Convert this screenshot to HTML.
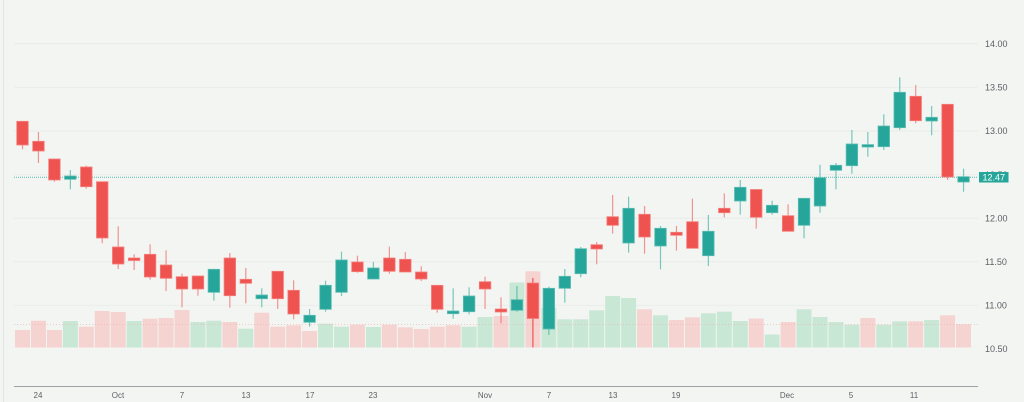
<!DOCTYPE html>
<html><head><meta charset="utf-8"><style>
html,body{margin:0;padding:0;background:#f3f5f2;}
svg{display:block;}
.r{fill:#ef5350;stroke:#f4807d;stroke-width:.8}
.g{fill:#26a69a;stroke:#5cbdb3;stroke-width:.8}
.wr{stroke:#ef5350;stroke-opacity:.6;stroke-width:1.2}
.wg{stroke:#26a69a;stroke-opacity:.6;stroke-width:1.2}
.vr{fill:#f5d3d1}
.vg{fill:#c9e7d5}
.pl{font-family:"Liberation Sans",sans-serif;font-size:9px;fill:#5d6066}
.dl{font-family:"Liberation Sans",sans-serif;font-size:8px;fill:#5d6066;text-anchor:middle}
</style></head><body>
<svg width="1024" height="402" viewBox="0 0 1024 402" xmlns="http://www.w3.org/2000/svg">
<rect width="1024" height="402" fill="#f3f5f2"/>
<line x1="3.5" y1="0" x2="3.5" y2="402" stroke="#e2e4e2"/>
<g stroke="#eaecea" stroke-width="1">
<line x1="14" y1="43.8" x2="978" y2="43.8"/>
<line x1="14" y1="87.4" x2="978" y2="87.4"/>
<line x1="14" y1="131" x2="978" y2="131"/>
<line x1="14" y1="174.6" x2="978" y2="174.6"/>
<line x1="14" y1="218.2" x2="978" y2="218.2"/>
<line x1="14" y1="261.8" x2="978" y2="261.8"/>
<line x1="14" y1="305.4" x2="978" y2="305.4"/>
</g>
<!-- volume -->
<g>
<rect class="vr" x="15" y="330" width="15" height="17.5"/>
<rect class="vr" x="30.95" y="320.7" width="15" height="26.8"/>
<rect class="vr" x="46.9" y="330" width="15" height="17.5"/>
<rect class="vg" x="62.85" y="321" width="15" height="26.5"/>
<rect class="vr" x="78.8" y="326.7" width="15" height="20.8"/>
<rect class="vr" x="94.75" y="311" width="15" height="36.5"/>
<rect class="vr" x="110.7" y="312" width="15" height="35.5"/>
<rect class="vg" x="126.65" y="321" width="15" height="26.5"/>
<rect class="vr" x="142.6" y="318.7" width="15" height="28.8"/>
<rect class="vr" x="158.55" y="318" width="15" height="29.5"/>
<rect class="vr" x="174.5" y="310" width="15" height="37.5"/>
<rect class="vg" x="190.45" y="322" width="15" height="25.5"/>
<rect class="vg" x="206.4" y="320.7" width="15" height="26.8"/>
<rect class="vr" x="222.35" y="322" width="15" height="25.5"/>
<rect class="vg" x="238.3" y="328.7" width="15" height="18.8"/>
<rect class="vr" x="254.25" y="312.7" width="15" height="34.8"/>
<rect class="vr" x="270.2" y="326.7" width="15" height="20.8"/>
<rect class="vr" x="286.15" y="325.3" width="15" height="22.2"/>
<rect class="vr" x="302.1" y="331" width="15" height="16.5"/>
<rect class="vg" x="318.05" y="323.7" width="15" height="23.8"/>
<rect class="vg" x="334" y="326.7" width="15" height="20.8"/>
<rect class="vr" x="349.95" y="324.7" width="15" height="22.8"/>
<rect class="vg" x="365.9" y="327" width="15" height="20.5"/>
<rect class="vr" x="381.85" y="324.7" width="15" height="22.8"/>
<rect class="vr" x="397.8" y="327.3" width="15" height="20.2"/>
<rect class="vr" x="413.75" y="329" width="15" height="18.5"/>
<rect class="vr" x="429.7" y="326.7" width="15" height="20.8"/>
<rect class="vr" x="445.65" y="325.3" width="15" height="22.2"/>
<rect class="vg" x="461.6" y="326.7" width="15" height="20.8"/>
<rect class="vg" x="477.55" y="317" width="15" height="30.5"/>
<rect class="vr" x="493.5" y="316" width="15" height="31.5"/>
<rect class="vg" x="509.45" y="282.5" width="15" height="65"/>
<rect class="vr" x="525.4" y="271.3" width="15" height="76.2"/>
<rect class="vg" x="541.35" y="307.7" width="15" height="39.8"/>
<rect class="vg" x="557.3" y="319.3" width="15" height="28.2"/>
<rect class="vg" x="573.25" y="319.3" width="15" height="28.2"/>
<rect class="vg" x="589.2" y="310.3" width="15" height="37.2"/>
<rect class="vg" x="605.15" y="296" width="15" height="51.5"/>
<rect class="vg" x="621.1" y="298" width="15" height="49.5"/>
<rect class="vr" x="637.05" y="309.3" width="15" height="38.2"/>
<rect class="vg" x="653" y="315.3" width="15" height="32.2"/>
<rect class="vr" x="668.95" y="320" width="15" height="27.5"/>
<rect class="vr" x="684.9" y="317.3" width="15" height="30.2"/>
<rect class="vg" x="700.85" y="313.3" width="15" height="34.2"/>
<rect class="vg" x="716.8" y="311.7" width="15" height="35.8"/>
<rect class="vg" x="732.75" y="321" width="15" height="26.5"/>
<rect class="vr" x="748.7" y="318.5" width="15" height="29"/>
<rect class="vg" x="764.65" y="334.5" width="15" height="13"/>
<rect class="vr" x="780.6" y="322" width="15" height="25.5"/>
<rect class="vg" x="796.55" y="309.3" width="15" height="38.2"/>
<rect class="vg" x="812.5" y="317" width="15" height="30.5"/>
<rect class="vg" x="828.45" y="322" width="15" height="25.5"/>
<rect class="vg" x="844.4" y="324.7" width="15" height="22.8"/>
<rect class="vr" x="860.35" y="318" width="15" height="29.5"/>
<rect class="vg" x="876.3" y="324.7" width="15" height="22.8"/>
<rect class="vg" x="892.25" y="321.3" width="15" height="26.2"/>
<rect class="vr" x="908.2" y="321.3" width="15" height="26.2"/>
<rect class="vg" x="924.15" y="320" width="15" height="27.5"/>
<rect class="vr" x="940.1" y="315.3" width="15" height="32.2"/>
<rect class="vr" x="956.05" y="324.3" width="15" height="23.2"/>
</g>
<line x1="14" y1="324.5" x2="978" y2="324.5" stroke="#eeb0ad" stroke-width="1" stroke-dasharray="1 2" opacity=".6"/>
<line x1="14" y1="177.3" x2="978" y2="177.3" stroke="#26a69a" stroke-width="1" stroke-dasharray="1 1" opacity=".75"/>
<!-- wicks -->
<g>
<line class="wr" x1="22.5" y1="121.3" x2="22.5" y2="149.3"/>
<line class="wr" x1="38.45" y1="132" x2="38.45" y2="163"/>
<line class="wr" x1="54.4" y1="159" x2="54.4" y2="181.7"/>
<line class="wg" x1="70.35" y1="170" x2="70.35" y2="189.3"/>
<line class="wr" x1="86.3" y1="165.7" x2="86.3" y2="188.7"/>
<line class="wr" x1="102.25" y1="181.7" x2="102.25" y2="243.3"/>
<line class="wr" x1="118.2" y1="226.3" x2="118.2" y2="269"/>
<line class="wr" x1="134.15" y1="254.3" x2="134.15" y2="270"/>
<line class="wr" x1="150.1" y1="244.3" x2="150.1" y2="279.7"/>
<line class="wr" x1="166.05" y1="250.3" x2="166.05" y2="291"/>
<line class="wr" x1="182" y1="273.7" x2="182" y2="307.3"/>
<line class="wr" x1="197.95" y1="276" x2="197.95" y2="295.7"/>
<line class="wg" x1="213.9" y1="269.3" x2="213.9" y2="300.7"/>
<line class="wr" x1="229.85" y1="253" x2="229.85" y2="307.7"/>
<line class="wr" x1="245.8" y1="268" x2="245.8" y2="303.3"/>
<line class="wg" x1="261.75" y1="288.3" x2="261.75" y2="307.3"/>
<line class="wr" x1="277.7" y1="271.3" x2="277.7" y2="309"/>
<line class="wr" x1="293.65" y1="280.3" x2="293.65" y2="319.3"/>
<line class="wg" x1="309.6" y1="309" x2="309.6" y2="326.7"/>
<line class="wg" x1="325.55" y1="280.7" x2="325.55" y2="311.7"/>
<line class="wg" x1="341.5" y1="251.7" x2="341.5" y2="296"/>
<line class="wr" x1="357.45" y1="255.7" x2="357.45" y2="272.7"/>
<line class="wg" x1="373.4" y1="262" x2="373.4" y2="279"/>
<line class="wr" x1="389.35" y1="246.7" x2="389.35" y2="273.7"/>
<line class="wr" x1="405.3" y1="252" x2="405.3" y2="272"/>
<line class="wr" x1="421.25" y1="266.3" x2="421.25" y2="281"/>
<line class="wr" x1="437.2" y1="285.3" x2="437.2" y2="312.7"/>
<line class="wg" x1="453.15" y1="288.3" x2="453.15" y2="318.7"/>
<line class="wg" x1="469.1" y1="287.3" x2="469.1" y2="314.3"/>
<line class="wr" x1="485.05" y1="276.7" x2="485.05" y2="309"/>
<line class="wr" x1="501" y1="297.3" x2="501" y2="323.3"/>
<line class="wg" x1="516.95" y1="286" x2="516.95" y2="311.7"/>
<line class="wr" x1="532.9" y1="278" x2="532.9" y2="347.5" style="stroke-opacity:1"/>
<line class="wg" x1="548.85" y1="286.7" x2="548.85" y2="335"/>
<line class="wg" x1="564.8" y1="269" x2="564.8" y2="302.7"/>
<line class="wg" x1="580.75" y1="247" x2="580.75" y2="277.3"/>
<line class="wr" x1="596.7" y1="242" x2="596.7" y2="264.3"/>
<line class="wr" x1="612.65" y1="195" x2="612.65" y2="233.7"/>
<line class="wg" x1="628.6" y1="196.7" x2="628.6" y2="252.7"/>
<line class="wr" x1="644.55" y1="206" x2="644.55" y2="253.7"/>
<line class="wg" x1="660.5" y1="226" x2="660.5" y2="269.3"/>
<line class="wr" x1="676.45" y1="226" x2="676.45" y2="250.7"/>
<line class="wr" x1="692.4" y1="198.7" x2="692.4" y2="248.3"/>
<line class="wg" x1="708.35" y1="215" x2="708.35" y2="266"/>
<line class="wr" x1="724.3" y1="193.3" x2="724.3" y2="217.3"/>
<line class="wg" x1="740.25" y1="180" x2="740.25" y2="214.7"/>
<line class="wr" x1="756.2" y1="189.5" x2="756.2" y2="228.7"/>
<line class="wg" x1="772.15" y1="200.7" x2="772.15" y2="214.7"/>
<line class="wr" x1="788.1" y1="204.3" x2="788.1" y2="231.3"/>
<line class="wg" x1="804.05" y1="198.3" x2="804.05" y2="238.3"/>
<line class="wg" x1="820" y1="164.7" x2="820" y2="212.7"/>
<line class="wg" x1="835.95" y1="163" x2="835.95" y2="189.3"/>
<line class="wg" x1="851.9" y1="130" x2="851.9" y2="173.7"/>
<line class="wg" x1="867.85" y1="132" x2="867.85" y2="156.7"/>
<line class="wg" x1="883.8" y1="114.3" x2="883.8" y2="150"/>
<line class="wg" x1="899.75" y1="77.3" x2="899.75" y2="130"/>
<line class="wr" x1="915.7" y1="85" x2="915.7" y2="123.3"/>
<line class="wg" x1="931.65" y1="106" x2="931.65" y2="135.3"/>
<line class="wr" x1="947.6" y1="104.3" x2="947.6" y2="180"/>
<line class="wg" x1="963.55" y1="168.7" x2="963.55" y2="191.7"/>
</g>
<!-- bodies -->
<g>
<rect class="r" x="16.75" y="121.3" width="11.5" height="23.7"/>
<rect class="r" x="32.7" y="141.3" width="11.5" height="9.7"/>
<rect class="r" x="48.65" y="159" width="11.5" height="21"/>
<rect class="g" x="64.6" y="176" width="11.5" height="3.3"/>
<rect class="r" x="80.55" y="167" width="11.5" height="19.7"/>
<rect class="r" x="96.5" y="181.7" width="11.5" height="56.3"/>
<rect class="r" x="112.45" y="247" width="11.5" height="17"/>
<rect class="r" x="128.4" y="258" width="11.5" height="2.5"/>
<rect class="r" x="144.35" y="254.3" width="11.5" height="22.7"/>
<rect class="r" x="160.3" y="265" width="11.5" height="13.3"/>
<rect class="r" x="176.25" y="276.7" width="11.5" height="12.3"/>
<rect class="r" x="192.2" y="276" width="11.5" height="13"/>
<rect class="g" x="208.15" y="269.3" width="11.5" height="23"/>
<rect class="r" x="224.1" y="258" width="11.5" height="37.7"/>
<rect class="r" x="240.05" y="279.3" width="11.5" height="4"/>
<rect class="g" x="256" y="295" width="11.5" height="3.7"/>
<rect class="r" x="271.95" y="271.3" width="11.5" height="27.4"/>
<rect class="r" x="287.9" y="290.3" width="11.5" height="23.7"/>
<rect class="g" x="303.85" y="315.3" width="11.5" height="7"/>
<rect class="g" x="319.8" y="285.3" width="11.5" height="24"/>
<rect class="g" x="335.75" y="260" width="11.5" height="32.3"/>
<rect class="r" x="351.7" y="262" width="11.5" height="9.7"/>
<rect class="g" x="367.65" y="268" width="11.5" height="11"/>
<rect class="r" x="383.6" y="258" width="11.5" height="13.3"/>
<rect class="r" x="399.55" y="259.3" width="11.5" height="12.7"/>
<rect class="r" x="415.5" y="272" width="11.5" height="7"/>
<rect class="r" x="431.45" y="285.3" width="11.5" height="24"/>
<rect class="g" x="447.4" y="311" width="11.5" height="2.7"/>
<rect class="g" x="463.35" y="296" width="11.5" height="15.7"/>
<rect class="r" x="479.3" y="281.7" width="11.5" height="7.3"/>
<rect class="r" x="495.25" y="309" width="11.5" height="3"/>
<rect class="g" x="511.2" y="299.7" width="11.5" height="10.6"/>
<rect class="r" x="527.15" y="283" width="11.5" height="35.5"/>
<rect class="g" x="543.1" y="288.3" width="11.5" height="40.7"/>
<rect class="g" x="559.05" y="276.3" width="11.5" height="12"/>
<rect class="g" x="575" y="248.7" width="11.5" height="25"/>
<rect class="r" x="590.95" y="244.7" width="11.5" height="4.3"/>
<rect class="r" x="606.9" y="216.7" width="11.5" height="8.6"/>
<rect class="g" x="622.85" y="208.3" width="11.5" height="34.7"/>
<rect class="r" x="638.8" y="214.3" width="11.5" height="22.7"/>
<rect class="g" x="654.75" y="228.3" width="11.5" height="17.7"/>
<rect class="r" x="670.7" y="232.3" width="11.5" height="3"/>
<rect class="r" x="686.65" y="221.7" width="11.5" height="26.6"/>
<rect class="g" x="702.6" y="231.3" width="11.5" height="24.4"/>
<rect class="r" x="718.55" y="208.3" width="11.5" height="4.4"/>
<rect class="g" x="734.5" y="187.3" width="11.5" height="13.7"/>
<rect class="r" x="750.45" y="189.5" width="11.5" height="27.8"/>
<rect class="g" x="766.4" y="205.3" width="11.5" height="7.4"/>
<rect class="r" x="782.35" y="215.7" width="11.5" height="15.6"/>
<rect class="g" x="798.3" y="198.3" width="11.5" height="27"/>
<rect class="g" x="814.25" y="177.7" width="11.5" height="28.3"/>
<rect class="g" x="830.2" y="165.3" width="11.5" height="5"/>
<rect class="g" x="846.15" y="144" width="11.5" height="21.7"/>
<rect class="g" x="862.1" y="144.6" width="11.5" height="2.4"/>
<rect class="g" x="878.05" y="126" width="11.5" height="20.7"/>
<rect class="g" x="894" y="92.3" width="11.5" height="35.4"/>
<rect class="r" x="909.95" y="96.3" width="11.5" height="24.4"/>
<rect class="g" x="925.9" y="117.3" width="11.5" height="3.7"/>
<rect class="r" x="941.85" y="104.3" width="11.5" height="72.7"/>
<rect class="g" x="957.8" y="176.7" width="11.5" height="5.3"/>
</g>
<!-- price axis -->
<g class="pl">
<text x="985" y="47">14.00</text>
<text x="985" y="90.6">13.50</text>
<text x="985" y="134.2">13.00</text>
<text x="985" y="177.8">12.50</text>
<text x="985" y="221.4">12.00</text>
<text x="985" y="265">11.50</text>
<text x="985" y="308.6">11.00</text>
<text x="985" y="352">10.50</text>
</g>
<rect x="979" y="172" width="29.5" height="10.5" fill="#26a69a"/>
<text x="982.5" y="180.6" font-family="Liberation Sans, sans-serif" font-size="9" fill="#ffffff">12.47</text>
<!-- time axis -->
<line x1="14" y1="386.5" x2="978" y2="386.5" stroke="#9fa2a8" stroke-width="1"/>
<g class="dl">
<text x="38" y="398">24</text>
<text x="118" y="398">Oct</text>
<text x="182" y="398">7</text>
<text x="246" y="398">13</text>
<text x="310" y="398">17</text>
<text x="373" y="398">23</text>
<text x="485" y="398">Nov</text>
<text x="549" y="398">7</text>
<text x="613" y="398">13</text>
<text x="676" y="398">19</text>
<text x="787" y="398">Dec</text>
<text x="851" y="398">5</text>
<text x="914" y="398">11</text>
</g>
</svg>
</body></html>
